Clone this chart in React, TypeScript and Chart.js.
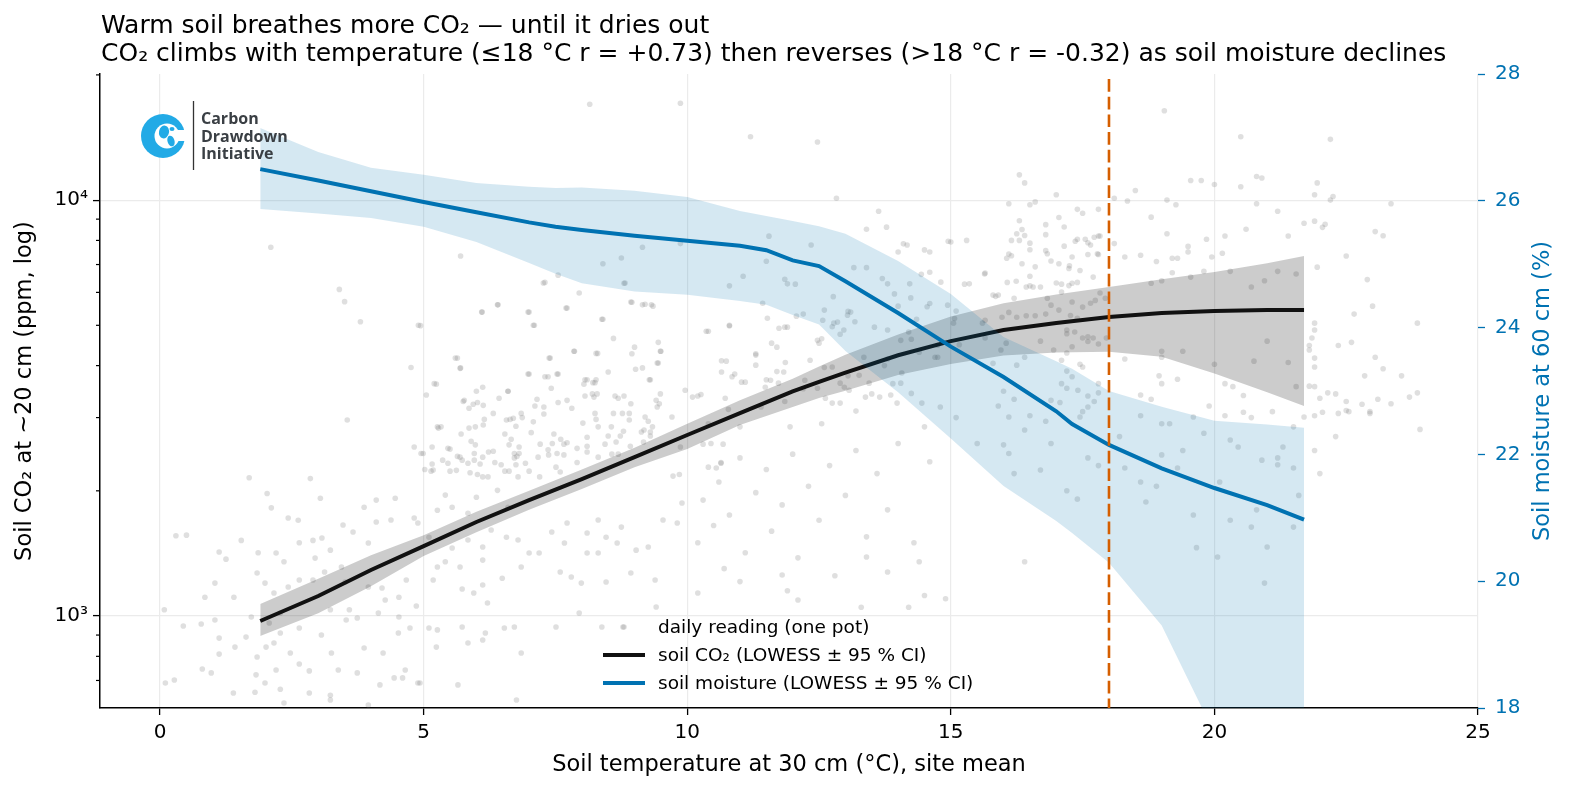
import { useEffect, useRef } from "react"
import { Chart, registerables } from "chart.js"

Chart.register(...registerables)

const FONT = '"DejaVu Sans", sans-serif'
const BLUE = "#0072b2"

// axis extents (x in °C, left y in ppm, right y in %)
const X_MIN = -1.14
const X_MAX = 25
const CO2_MIN = 601
const CO2_MAX = 20100
const MOIST_MIN = 18
const MOIST_MAX = 28
const THRESHOLD_C = 18

const xTicks = [0, 5, 10, 15, 20, 25]
const co2MajorTicks = [1000, 10000]
const co2MinorTicks = [700, 800, 900, 2000, 3000, 4000, 5000, 6000, 7000, 8000, 9000, 20000]
const moistTicks = [18, 20, 22, 24, 26, 28]

// LOWESS fit of soil CO2 (ppm) with 95 % band
const co2Temp = [1.9, 3, 4, 5, 6, 7, 8, 9, 10, 11, 12, 12.5, 13, 14, 15, 16, 17, 18, 19, 20, 21, 21.7]
const co2Fit = [973, 1117, 1290, 1473, 1683, 1900, 2135, 2411, 2724, 3076, 3467, 3656, 3846, 4236, 4581, 4870, 5062, 5233, 5350, 5410, 5440, 5440]
const co2Upper = [1069, 1230, 1400, 1565, 1780, 2000, 2250, 2540, 2900, 3300, 3720, 3980, 4250, 4750, 5250, 5650, 5930, 6180, 6450, 6713, 7050, 7334]
const co2Lower = [895, 1015, 1180, 1394, 1590, 1800, 2020, 2280, 2520, 2880, 3180, 3342, 3480, 3796, 4035, 4230, 4300, 4320, 4200, 3830, 3450, 3200]

// LOWESS fit of soil moisture (%) with 95 % band
const moistTemp = [1.9, 3, 4, 5, 6, 7, 7.5, 8, 9, 10, 11, 11.5, 12, 12.5, 13, 14, 15, 16, 17, 17.3, 18, 19, 20, 21, 21.7]
const moistFit = [26.5, 26.32, 26.15, 25.98, 25.82, 25.66, 25.59, 25.54, 25.45, 25.37, 25.29, 25.22, 25.06, 24.97, 24.73, 24.23, 23.7, 23.22, 22.68, 22.48, 22.15, 21.78, 21.47, 21.2, 20.97]
const moistUpper = [27.15, 26.77, 26.52, 26.41, 26.28, 26.22, 26.2, 26.21, 26.16, 26.06, 25.84, 25.76, 25.68, 25.6, 25.48, 25.05, 24.53, 23.85, 23.47, 23.35, 23.0, 22.75, 22.53, 22.47, 22.42]
const moistLower = [25.87, 25.8, 25.73, 25.59, 25.35, 25.02, 24.85, 24.7, 24.57, 24.52, 24.42, 24.36, 24.2, 24.05, 23.63, 22.98, 22.25, 21.5, 20.95, 20.76, 20.29, 19.3, 17.6, 16.4, 15.8]

// daily readings: [soil temperature °C, soil CO2 ppm]
const dailyReadings: [number, number][] = [
  [0.1, 690], [0.3, 1560], [0.08, 1035], [0.44, 946], [0.78, 957], [1.04, 978], [1.12, 885], [1.42, 842],
  [1.12, 810], [0.8, 746], [0.27, 702], [0.97, 730], [1.39, 653], [1.8, 656], [2.28, 667], [2.01, 842],
  [1.82, 722], [2.2, 742], [2.64, 767], [2.83, 738], [2.47, 815], [2.28, 910], [2.07, 962], [2.64, 936],
  [3.06, 900], [3.25, 815], [3.38, 742], [3.23, 645], [3.74, 730], [3.87, 838], [4.23, 815], [3.74, 989],
  [3.53, 978], [4.17, 683], [4.44, 710], [4.65, 742], [4.74, 936], [4.52, 910], [5.1, 936], [5.24, 842],
  [4.89, 690], [5.65, 683], [5.73, 941], [6.17, 910], [6.53, 936], [6.72, 941], [6.85, 815], [6.76, 628],
  [7.51, 941], [7.95, 1017], [8.38, 941], [8.78, 941], [6.21, 1075], [5.73, 1161], [5.95, 1136], [6.12, 1187],
  [5.18, 1221], [4.86, 1057], [4.53, 1110], [4.67, 1221], [4.21, 1168], [5.41, 1350], [5.69, 1312], [6.12, 1363],
  [6.49, 1233], [6.85, 1312], [7.19, 1417], [7.59, 1276], [7.8, 1241], [7.99, 1200], [8.46, 1207], [8.93, 1269],
  [9.39, 1221], [9.41, 1051], [7.67, 1498], [8.1, 1417], [8.31, 1417], [8.67, 1498], [9.03, 1440], [9.54, 1701],
  [9.81, 1673], [9.9, 1870], [9.26, 1465], [8.75, 1636], [8.46, 1547], [8.1, 1584], [8.31, 1701], [7.72, 1673],
  [7.43, 1592], [7.0, 1417], [6.79, 1523], [6.57, 1547], [6.28, 1610], [6.12, 1465], [5.84, 1523], [5.54, 1457],
  [5.26, 1312], [5.1, 1547], [4.89, 1673], [4.82, 1720], [5.26, 1796], [5.41, 1953], [5.54, 1826], [5.84, 1767],
  [6.0, 1930], [6.4, 2005], [6.6, 1826], [6.12, 2160], [5.84, 2330], [5.69, 2410], [6.12, 2410], [6.72, 2460],
  [6.93, 2330], [7.2, 2160], [7.51, 2280], [7.36, 2510], [7.72, 2610], [8.1, 2690], [8.31, 2850], [8.6, 3070],
  [8.9, 2960], [9.18, 2800], [9.41, 3300], [8.23, 3360], [7.72, 3300], [7.28, 3180], [6.85, 3070], [6.57, 2960],
  [5.98, 2850], [5.77, 3300], [6.12, 3550], [5.26, 2850], [5.18, 2245], [4.95, 2460], [4.82, 2550], [4.46, 1920],
  [4.1, 1900], [4.38, 1701], [3.87, 1826], [4.1, 1683], [3.66, 1592], [3.95, 1498], [3.47, 1655], [3.07, 1540],
  [3.23, 1440], [3.44, 1312], [2.94, 1378], [3.12, 1276], [2.2, 1417], [2.35, 1350], [1.84, 1269], [1.99, 1200],
  [2.16, 1136], [2.43, 1174], [2.64, 1221], [2.9, 1221], [3.51, 1207], [3.95, 1174], [4.27, 1093], [4.14, 1017],
  [4.53, 995], [3.23, 1035], [3.59, 1035], [1.73, 995], [2.28, 1017], [1.63, 890], [2.16, 861], [1.84, 797],
  [1.99, 690], [2.35, 618], [2.83, 653], [3.23, 628], [3.95, 611], [4.6, 710], [4.93, 690], [5.26, 926],
  [5.84, 861], [6.12, 876], [3.55, 2960], [1.69, 2150], [2.85, 2140], [2.03, 1970], [3.04, 1920], [2.11, 1820],
  [0.5, 1565], [2.43, 1720], [2.62, 1700], [1.54, 1520], [1.12, 1425], [1.25, 1370], [2.64, 1500], [2.9, 1520],
  [1.86, 1420], [1.04, 1200], [0.85, 1110], [1.4, 1110],
  [2.1, 7700], [3.4, 6100], [3.5, 5700], [3.8, 5100], [4.9, 5000], [4.76, 3960], [5.2, 3620], [5.7, 7340],
  [6.1, 5380], [6.4, 5600], [5.6, 4170], [5.7, 3950], [6.0, 3470], [6.6, 3470], [7.0, 5380], [7.1, 5000],
  [7.3, 6340], [7.55, 6600], [7.7, 5500], [7.95, 5980], [7.85, 4330], [8.4, 5170], [8.6, 4650], [8.4, 7030],
  [8.75, 7260], [8.8, 6310], [8.95, 5680], [9.15, 7700], [9.2, 5620], [9.35, 5560], [9.0, 4430], [9.5, 4330],
  [9.45, 4060], [8.15, 17000], [9.87, 17100], [9.3, 3700], [8.5, 3860], [8.3, 4280], [8.1, 3700], [8.25, 3640],
  [7.0, 3820], [7.3, 3760], [7.4, 4170], [7.55, 3820],
  [9.87, 2550], [10.4, 2280], [10.64, 2330], [10.3, 1900], [10.5, 1650], [10.2, 1500], [10.6, 2100], [10.8, 1750],
  [11.0, 2400], [11.1, 1420], [11.3, 1980], [11.5, 2250], [11.6, 1600], [11.8, 1850], [12.0, 2450], [12.1, 1380],
  [12.3, 2050], [12.5, 1700], [12.7, 2300], [12.8, 1250], [13.0, 1950], [13.2, 2500], [13.4, 1550], [13.6, 2200],
  [13.8, 1800], [14.0, 2600], [14.3, 1500], [14.6, 2350], [14.9, 1100], [10.7, 1300], [11.9, 1150], [13.3, 1050],
  [11.0, 1210], [10.2, 1136], [12.1, 1093], [14.5, 1120], [14.2, 1050], [13.8, 1276], [14.4, 1350], [16.4, 1350],
  [13.4, 1386], [11.8, 1255],
  [17.5, 3100], [18.2, 2700], [18.6, 3400], [19.0, 2900], [19.4, 2500], [19.9, 3200], [20.3, 2650], [20.7, 3000],
  [21.2, 2400], [21.5, 2850], [18.9, 2050], [20.1, 2100], [21.6, 1950], [19.6, 1750], [20.8, 1800], [22.0, 2200],
  [21.9, 2500], [17.8, 2300], [16.9, 2600], [16.4, 2800], [15.9, 3200], [15.5, 2600], [15.1, 3000], [16.2, 2200],
  [17.2, 2000], [22.3, 2700], [19.66, 1460], [21.0, 1465], [20.95, 1200], [20.06, 1386], [21.5, 1636], [20.3, 1700],
  [20.7, 1636], [18.3, 2270], [18.7, 1880], [17.4, 1910], [17.6, 2400], [18.6, 2100], [19.0, 2440], [19.3, 2270],
  [19.8, 2750], [20.45, 2550], [20.9, 2370], [21.2, 2310], [21.5, 2270], [21.3, 2550], [16.1, 2460], [16.0, 2580],
  [16.7, 2245],
  [11.2, 14200], [12.47, 13800], [19.05, 16400], [20.5, 14200], [16.3, 11500], [16.4, 11000], [19.55, 11150], [19.75, 11150],
  [20.0, 10900], [20.8, 11400], [20.9, 11300], [20.5, 10770], [18.5, 10550], [18.1, 10100], [18.35, 9950], [19.1, 10000],
  [19.27, 9750], [17.0, 10300], [17.8, 9500], [17.4, 9500], [17.5, 9300], [16.1, 9800], [16.5, 9750], [16.6, 9900],
  [16.3, 8920], [17.05, 9080], [18.8, 9100], [19.1, 8300], [19.5, 7740], [19.85, 8050], [20.2, 8200], [20.6, 8510],
  [20.8, 9800], [21.2, 9400], [21.4, 8200], [21.7, 8800], [21.9, 8900], [20.15, 7450], [19.95, 7300], [19.5, 7500],
  [19.2, 7250], [19.3, 7250], [18.9, 7120], [18.3, 7300], [18.6, 7370], [18.1, 7860], [17.6, 7900], [17.8, 8200],
  [17.4, 8050], [17.15, 7750], [17.3, 7300], [17.6, 7400], [17.8, 7400], [16.8, 7560], [16.5, 7600], [16.15, 7350],
  [16.35, 7030], [16.6, 6910], [16.9, 7140], [17.25, 6950], [16.15, 8000], [16.35, 8500], [15.3, 8000], [15.0, 7930],
  [15.65, 6680], [15.35, 6290], [15.85, 5870], [16.5, 6220], [17.3, 6310], [17.7, 6530], [18.8, 6310], [19.0, 6400],
  [19.2, 6690], [19.55, 6530], [19.8, 6740], [20.3, 6740], [20.7, 6180], [20.95, 6400], [21.2, 6740], [21.55, 6640],
  [21.95, 6900],
  [18.3, 4150], [19.0, 4330], [19.0, 4190], [18.95, 3780], [19.3, 3710], [19.0, 3620], [19.4, 4330], [20.0, 4030],
  [20.2, 3620], [20.35, 3560], [20.55, 3390], [20.75, 4100], [21.0, 4580], [21.4, 4070], [21.55, 3560], [21.7, 3010],
  [18.6, 3030], [18.8, 3320], [19.15, 2900], [19.6, 3010], [20.2, 3030], [20.55, 3090], [21.1, 3100], [17.6, 3380],
  [17.1, 3620], [17.6, 3180], [17.8, 3620], [17.45, 3010], [16.8, 2940], [16.5, 3030], [16.1, 3010], [16.2, 3320],
  [16.0, 3470], [17.2, 3880], [17.45, 4030], [17.3, 4440], [17.8, 4510], [17.6, 4690], [17.2, 4770], [16.7, 4580],
  [9.87, 7860], [10.4, 4840], [10.8, 4980], [10.65, 4110], [10.9, 3820], [11.06, 6560], [11.5, 7130], [11.55, 8190],
  [11.3, 4270], [11.7, 3870], [11.5, 3700], [11.9, 4950], [12.05, 6280], [12.2, 5320], [12.35, 7800], [12.55, 4640],
  [12.75, 3970], [12.85, 5090], [12.77, 5860], [13.05, 5400], [13.16, 6880], [13.4, 6880], [13.7, 6480], [13.78, 8610],
  [13.63, 9400], [14.1, 7850], [14.5, 7590], [14.95, 7960], [14.6, 5640], [14.0, 5560], [14.35, 5170], [14.25, 4630],
  [14.75, 4190], [13.8, 4150], [13.35, 4190], [13.05, 3780], [13.5, 3420], [13.9, 3620], [14.45, 3250], [14.8, 3180],
  [13.2, 3110], [12.75, 3250], [12.2, 3520], [11.85, 3280], [11.4, 3180], [10.78, 3140], [10.26, 3410], [10.4, 2900],
  [11.0, 2850], [11.95, 2850], [12.55, 2900], [14.5, 2850],
  [22.2, 14000], [21.95, 11000], [21.9, 10300], [22.25, 10200], [22.2, 10000], [23.35, 9800], [22.1, 8750], [22.05, 8600],
  [23.05, 8400], [23.2, 8210], [22.5, 7340], [22.9, 6440], [23.0, 5560], [22.65, 5320], [23.85, 5060], [21.9, 5060],
  [21.9, 4870], [21.85, 4660], [22.35, 4470], [22.6, 4550], [21.8, 4470], [21.8, 4360], [23.05, 4190], [21.9, 4170],
  [21.9, 3970], [22.85, 3780], [23.2, 3930], [23.55, 3780], [21.8, 3570], [21.9, 3560], [22.15, 3440], [22.3, 3420],
  [22.0, 3340], [22.5, 3280], [22.5, 3120], [22.8, 3230], [23.1, 3320], [23.35, 3240], [23.7, 3360], [23.85, 3440],
  [22.05, 3090], [21.9, 3030], [22.35, 3070], [22.55, 3100], [22.95, 3070], [22.95, 3100], [23.9, 2810],
  // dense cloud 5–10 °C
  [7.27, 6318], [8.82, 6318], [8.93, 5690], [9.15, 5600], [9.32, 5600], [8.38, 5170], [7.72, 5500], [6.98, 5380],
  [6.41, 5600], [6.11, 5380], [7.08, 5000], [10.36, 4840], [9.45, 4550], [8.95, 4270], [9.49, 4330], [7.86, 4330],
  [8.27, 4280], [7.38, 4170], [5.64, 4170], [5.69, 3940], [9.43, 4060], [9.02, 3920], [9.15, 3950], [6.98, 3820],
  [7.53, 3820], [7.36, 3760], [9.28, 3700], [8.06, 3700], [8.27, 3700], [5.24, 3610], [8.04, 3610], [8.21, 3640],
  [7.42, 3530], [6.6, 3470], [9.96, 3490], [5.05, 3400], [8.06, 3380], [8.2, 3420], [8.29, 3420], [8.63, 3380],
  [8.69, 3340], [8.8, 3380], [9.49, 3420], [10.1, 3360], [10.2, 3380], [6.43, 3340], [7.15, 3320], [5.75, 3280],
  [5.94, 3230], [6.02, 3260], [6.13, 3210], [7.55, 3260], [8.93, 3240], [9.47, 3240], [9.43, 3180], [5.86, 3160],
  [7.11, 3200], [7.81, 3160], [7.28, 3060], [8.77, 3070], [8.9, 3070], [6.32, 3070], [8.25, 3070], [8.27, 2970],
  [6.15, 2970], [6.13, 2880], [6.64, 2970], [6.7, 2990], [6.87, 3000], [7.08, 2930], [5.28, 2830], [5.33, 2850],
  [5.86, 2830], [6.75, 2860], [8.02, 2910], [8.56, 2850], [9.2, 3010], [9.26, 2940], [9.34, 2850], [9.71, 3010],
  [5.71, 2740], [6.54, 2740], [7.04, 2760], [7.47, 2740], [8.5, 2710], [8.73, 2710], [8.79, 2780], [9.13, 2770],
  [9.3, 2770], [5.9, 2630], [5.98, 2580], [6.66, 2660], [6.62, 2580], [7.6, 2660], [7.66, 2590], [5.16, 2550],
  [5.46, 2530], [5.5, 2520], [6.81, 2550], [7.21, 2590], [7.44, 2600], [7.91, 2530], [8.1, 2560], [8.44, 2590],
  [8.65, 2620], [8.92, 2560], [9.17, 2620], [9.3, 2710], [4.99, 2460], [5.64, 2420], [5.73, 2370], [5.96, 2460],
  [5.96, 2370], [6.23, 2480], [6.32, 2490], [6.77, 2420], [6.81, 2460], [7.17, 2410], [7.37, 2440], [7.53, 2460],
  [7.66, 2440], [7.91, 2340], [8.1, 2480], [8.31, 2410], [8.57, 2450], [8.69, 2450], [5.16, 2320], [5.36, 2370],
  [5.46, 2330], [6.07, 2320], [6.35, 2340], [6.47, 2310], [6.72, 2400], [6.75, 2310], [6.54, 2230], [6.62, 2230],
  [7.0, 2230], [7.59, 2220], [5.02, 2250], [5.14, 2230], [5.5, 2230], [5.62, 2240], [5.88, 2210], [6.02, 2190],
  [6.22, 2160], [6.79, 2160], [9.73, 2170], [9.85, 2190], [10.3, 2590], [10.45, 2600], [10.68, 2590], [10.55, 2270],
  [10.64, 2340], [10.72, 3340], [10.74, 4100], [4.94, 4990],
  // dense cloud 10–18 °C
  [12.83, 10100], [17.15, 8620], [16.8, 8730], [13.4, 8510], [14.17, 7800], [14.6, 7500], [14.0, 7500], [16.4, 8220],
  [16.3, 8000], [16.25, 8300], [16.5, 7880], [16.1, 7420], [16.8, 8260], [17.36, 7960], [17.55, 8050], [17.72, 8140],
  [17.65, 7800], [17.78, 7430], [17.83, 8200], [16.83, 7430], [16.06, 7250], [17.05, 7030], [17.24, 6850], [17.45, 6770],
  [16.5, 6560], [16.07, 6340], [16.24, 6380], [16.43, 6180], [16.56, 6180], [16.7, 6180], [17.0, 6320], [17.1, 6280],
  [17.24, 6230], [17.4, 6340], [17.83, 5980], [16.83, 5810], [17.1, 6010], [15.64, 6640], [15.26, 6280], [15.8, 5910],
  [15.9, 5910], [16.2, 5810], [17.3, 5690], [17.5, 5530], [17.65, 5650], [17.74, 5740], [17.93, 5810], [16.9, 5590],
  [16.1, 5370], [15.97, 5230], [15.6, 5060], [15.65, 5140], [14.94, 5590], [14.55, 5540], [14.24, 5820], [13.93, 5950],
  [14.22, 6290], [13.8, 6290], [14.6, 6710], [14.81, 6350], [14.44, 6630], [15.07, 5190], [15.1, 5410], [15.05, 5060],
  [15.16, 4490], [16.25, 5230], [16.43, 5270], [16.6, 5270], [16.8, 5320], [17.05, 5440], [17.27, 5280], [17.4, 5200],
  [17.2, 4870], [17.35, 4820], [17.7, 4660], [17.6, 4570], [17.5, 4660], [17.95, 4660], [16.95, 4360], [17.2, 4290],
  [17.1, 4120], [17.5, 3970], [17.3, 3760], [17.41, 3490], [17.2, 3530], [17.72, 3280], [17.8, 3440], [16.9, 3300],
  [17.07, 3260], [16.4, 4190], [16.25, 4010], [15.95, 4360], [15.65, 4660], [16.05, 4530], [15.8, 4050], [14.75, 4480],
  [14.7, 4190], [14.4, 4310], [14.2, 4820], [14.05, 4600], [13.8, 4870], [13.55, 4950], [13.04, 5290], [13.1, 5380],
  [13.18, 5100], [12.97, 4870], [12.9, 4760], [12.78, 5060], [12.75, 4960], [12.57, 5140], [12.6, 5440], [12.47, 4600],
  [12.5, 4530], [12.07, 5260], [11.85, 4950], [11.74, 4920], [11.6, 4530], [11.7, 4430], [11.85, 6450], [11.9, 6290],
  [10.8, 6220], [11.43, 5650], [11.52, 5200], [11.3, 4240], [11.3, 4010], [10.8, 5000], [10.65, 3860], [10.85, 3760],
  [11.03, 3650], [11.1, 3650], [11.58, 3690], [11.48, 3550], [11.73, 3630], [11.86, 4070], [11.83, 3860], [12.23, 3690],
  [12.33, 4120], [12.47, 3530], [12.6, 3960], [12.9, 3630], [12.98, 3550], [13.07, 3490], [13.26, 3790], [13.45, 3630],
  [13.38, 3360], [13.65, 3360], [13.86, 3400], [14.05, 3630], [13.98, 3250], [14.25, 3430], [13.74, 4000], [14.07, 3840],
  [12.9, 3250], [12.62, 3340],
]

const legendItems = ["daily reading (one pot)", "soil CO\u2082 (LOWESS \u00b1 95 % CI)", "soil moisture (LOWESS \u00b1 95 % CI)"]

const pts = (xs: number[], ys: number[]) => xs.map((x, i) => ({ x, y: ys[i] }))

const overlay = {
  id: "overlay",
  afterDatasetsDraw(chart: any) {
    const { ctx, chartArea, scales } = chart
    // minor ticks on the log axis
    ctx.save()
    ctx.strokeStyle = "#000"
    ctx.lineWidth = 1.2
    for (const v of co2MinorTicks) {
      if (v < CO2_MIN || v > CO2_MAX) continue
      const p = scales.y.getPixelForValue(v)
      ctx.beginPath()
      ctx.moveTo(chartArea.left - 4, p)
      ctx.lineTo(chartArea.left, p)
      ctx.stroke()
    }
    // threshold line
    const xp = scales.x.getPixelForValue(THRESHOLD_C)
    ctx.strokeStyle = "#d55e00"
    ctx.lineWidth = 2.6
    ctx.setLineDash([12.7, 5])
    ctx.lineDashOffset = -5
    ctx.beginPath()
    ctx.moveTo(xp, chartArea.top)
    ctx.lineTo(xp, chartArea.bottom)
    ctx.stroke()
    ctx.restore()
  },
  afterDraw(chart: any) {
    const { ctx, chartArea } = chart
    ctx.save()
    ctx.fillStyle = "#000"
    ctx.textAlign = "left"
    ctx.textBaseline = "alphabetic"
    ctx.font = `25px ${FONT}`
    ctx.fillText("Warm soil breathes more CO\u2082 \u2014 until it dries out", 101, 33)
    ctx.fillText("CO\u2082 climbs with temperature (\u226418 \u00b0C r = +0.73) then reverses (>18 \u00b0C r = -0.32) as soil moisture declines", 101, 61)

    // axis titles
    ctx.font = `22.5px ${FONT}`
    ctx.textAlign = "center"
    ctx.textBaseline = "middle"
    ctx.fillText("Soil temperature at 30 cm (\u00b0C), site mean", (chartArea.left + chartArea.right) / 2, 765)
    const midY = (chartArea.top + chartArea.bottom) / 2
    ctx.save()
    ctx.translate(25, midY)
    ctx.rotate(-Math.PI / 2)
    ctx.fillText("Soil CO\u2082 at ~20 cm (ppm, log)", 0, 0)
    ctx.restore()
    ctx.save()
    ctx.fillStyle = BLUE
    ctx.translate(1543, midY)
    ctx.rotate(-Math.PI / 2)
    ctx.fillText("Soil moisture at 60 cm (%)", 0, 0)
    ctx.restore()

    // legend
    ctx.font = `18.5px ${FONT}`
    ctx.textAlign = "left"
    const rows = [627, 655, 683]
    ctx.fillStyle = "rgba(128,128,128,0.25)"
    ctx.beginPath()
    ctx.arc(624, rows[0], 2.8, 0, Math.PI * 2)
    ctx.fill()
    ctx.lineWidth = 4
    ctx.strokeStyle = "#111"
    ctx.beginPath()
    ctx.moveTo(603, rows[1])
    ctx.lineTo(645, rows[1])
    ctx.stroke()
    ctx.strokeStyle = BLUE
    ctx.beginPath()
    ctx.moveTo(603, rows[2])
    ctx.lineTo(645, rows[2])
    ctx.stroke()
    ctx.fillStyle = "#000"
    legendItems.forEach((t, i) => ctx.fillText(t, 658, rows[i] + 1))

    // logo
    const cx = 163
    const cy = 136
    ctx.fillStyle = "#22aae6"
    ctx.beginPath()
    ctx.arc(cx, cy, 22, 0, Math.PI * 2)
    ctx.fill()
    ctx.fillStyle = "#fff"
    ctx.beginPath()
    ctx.arc(cx + 4, cy, 12.5, 0, Math.PI * 2)
    ctx.fill()
    ctx.fillRect(cx + 10, cy - 6, 14, 11)
    ctx.fillStyle = "#22aae6"
    ctx.beginPath()
    ctx.ellipse(cx + 1, cy - 4, 5, 6.5, 0.2, 0, Math.PI * 2)
    ctx.fill()
    ctx.beginPath()
    ctx.ellipse(cx + 8, cy + 5, 3.5, 5.5, -0.3, 0, Math.PI * 2)
    ctx.fill()
    ctx.beginPath()
    ctx.ellipse(cx + 9, cy - 7, 2.5, 2, 0, 0, Math.PI * 2)
    ctx.fill()
    ctx.strokeStyle = "#333"
    ctx.lineWidth = 1.3
    ctx.beginPath()
    ctx.moveTo(193.5, 101)
    ctx.lineTo(193.5, 170)
    ctx.stroke()
    ctx.fillStyle = "#3a3f44"
    ctx.font = `bold 16px "Open Sans", ${FONT}`
    ctx.textBaseline = "alphabetic"
    ctx.fillText("Carbon", 201, 124)
    ctx.fillText("Drawdown", 201, 142)
    ctx.fillText("Initiative", 201, 159)
    ctx.restore()
  },
}

export default function App() {
  const chartRef = useRef<HTMLCanvasElement>(null)
  const chartInstance = useRef<Chart | null>(null)

  useEffect(() => {
    if (!chartRef.current) return
    if (chartInstance.current) chartInstance.current.destroy()
    const ctx = chartRef.current.getContext("2d")
    if (!ctx) return

    const tickFont = { family: FONT, size: 20 }

    chartInstance.current = new Chart(ctx, {
      type: "line",
      data: {
        datasets: [
          {
            label: "soil moisture",
            data: pts(moistTemp, moistFit),
            yAxisID: "y2",
            borderColor: BLUE,
            borderWidth: 4,
            pointRadius: 0,
            fill: false,
            order: 1,
          },
          {
            label: "moisture upper",
            data: pts(moistTemp, moistUpper),
            yAxisID: "y2",
            borderColor: "transparent",
            pointRadius: 0,
            backgroundColor: "rgba(0,114,178,0.165)",
            fill: "+1",
            order: 2,
          },
          {
            label: "moisture lower",
            data: pts(moistTemp, moistLower),
            yAxisID: "y2",
            borderColor: "transparent",
            pointRadius: 0,
            fill: false,
            order: 2,
          },
          {
            label: "soil CO2",
            data: pts(co2Temp, co2Fit),
            yAxisID: "y",
            borderColor: "#111",
            borderWidth: 4,
            pointRadius: 0,
            fill: false,
            order: 3,
          },
          {
            label: "co2 upper",
            data: pts(co2Temp, co2Upper),
            yAxisID: "y",
            borderColor: "transparent",
            pointRadius: 0,
            backgroundColor: "rgba(0,0,0,0.2)",
            fill: "+1",
            order: 4,
          },
          {
            label: "co2 lower",
            data: pts(co2Temp, co2Lower),
            yAxisID: "y",
            borderColor: "transparent",
            pointRadius: 0,
            fill: false,
            order: 4,
          },
          {
            type: "scatter",
            label: "daily reading (one pot)",
            data: dailyReadings.map(([x, y]) => ({ x, y })),
            yAxisID: "y",
            pointRadius: 2.8,
            pointBorderWidth: 0,
            backgroundColor: "rgba(128,128,128,0.25)",
            borderColor: "transparent",
            showLine: false,
            order: 5,
          } as any,
        ],
      },
      options: {
        animation: false,
        responsive: true,
        maintainAspectRatio: false,
        events: [],
        layout: { padding: { top: 74, left: 0, right: 0, bottom: 0 } },
        plugins: {
          legend: { display: false },
          tooltip: { enabled: false },
        },
        scales: {
          x: {
            type: "linear",
            min: X_MIN,
            max: X_MAX,
            afterBuildTicks: (s: any) => {
              s.ticks = xTicks.map((value) => ({ value }))
            },
            afterFit: (s: any) => {
              s.height = 86
            },
            grid: { color: "#ebebeb", lineWidth: 1.2, tickColor: "#000", tickLength: 7, tickWidth: 1.3 },
            border: { color: "#000", width: 1.5 },
            ticks: { color: "#000", font: tickFont, padding: 6, maxRotation: 0 },
          },
          y: {
            type: "logarithmic",
            position: "left",
            min: CO2_MIN,
            max: CO2_MAX,
            afterBuildTicks: (s: any) => {
              s.ticks = co2MajorTicks.map((value) => ({ value }))
            },
            afterFit: (s: any) => {
              s.width = 100
            },
            grid: { color: "#ebebeb", lineWidth: 1.2, tickColor: "#000", tickLength: 7, tickWidth: 1.3 },
            border: { color: "#000", width: 1.5 },
            ticks: {
              color: "#000",
              font: tickFont,
              padding: 5,
              callback: (v: any) => (v === 1000 ? "10\u00b3" : v === 10000 ? "10\u2074" : ""),
            },
          },
          y2: {
            type: "linear",
            position: "right",
            min: MOIST_MIN,
            max: MOIST_MAX,
            afterBuildTicks: (s: any) => {
              s.ticks = moistTicks.map((value) => ({ value }))
            },
            afterFit: (s: any) => {
              s.width = 93
            },
            grid: { drawOnChartArea: false, tickColor: BLUE, tickLength: 7, tickWidth: 1.3 },
            border: { display: false },
            ticks: { color: BLUE, font: tickFont, padding: 10 },
          },
        },
      },
      plugins: [overlay],
    })

    return () => {
      if (chartInstance.current) {
        chartInstance.current.destroy()
        chartInstance.current = null
      }
    }
  }, [])

  return (
    <div style={{ position: "fixed", left: 0, top: 0, width: 1571, height: 794, background: "#fff" }}>
      <canvas ref={chartRef}></canvas>
    </div>
  )
}
